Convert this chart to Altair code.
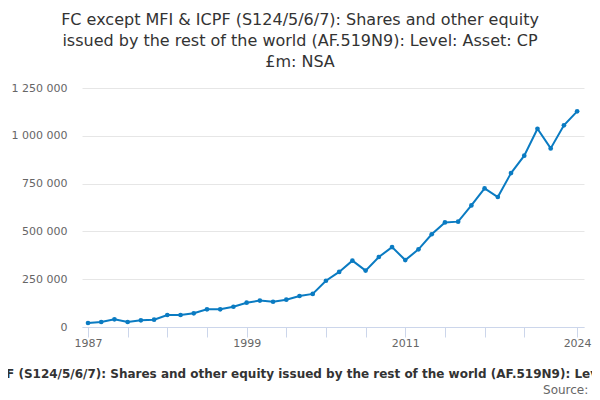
import altair as alt
import pandas as pd

years = list(range(1987, 2025))
values = [
    20900, 26200, 40100, 26200, 34900, 38400, 62800, 62800, 71500, 92400,
    92400, 106000, 127000, 138000, 132000, 143000, 162000, 173000, 242000, 288000,
    347000, 295000, 366000, 418000, 350000, 406000, 485000, 547000, 551000, 636000,
    725000, 680000, 805000, 896000, 1037000, 934000, 1055000, 1128000,
]
x_ticks = [1987, 1990, 1993, 1996, 1999, 2002, 2005, 2008, 2011, 2014, 2017, 2020, 2024]
x_labels = [1987, 1999, 2011, 2024]
y_ticks = [0, 250000, 500000, 750000, 1000000, 1250000]

title_lines = [
    "FC except MFI & ICPF (S124/5/6/7): Shares and other equity",
    "issued by the rest of the world (AF.519N9): Level: Asset: CP",
    "£m: NSA",
]
series_name = ("FC except MFI & ICPF (S124/5/6/7): Shares and other equity issued by "
               "the rest of the world (AF.519N9): Level: Asset: CP £m: NSA")
source_text = "Source:"

df = pd.DataFrame({"year": years, "value": values})

FONT = "DejaVu Sans"
BLUE = "#0a7bc2"

label_cond = " || ".join(f"datum.value == {v}" for v in x_labels)

x_enc = alt.X(
    "year:Q",
    scale=alt.Scale(domain=[1986.546, 2024.52], nice=False, zero=False),
    axis=alt.Axis(
        values=x_ticks,
        labelExpr=f"({label_cond}) ? format(datum.value, 'd') : ''",
        labelOverlap=False,
        grid=False,
        domainColor="#ccd6eb",
        tickColor="#ccd6eb",
        tickSize=10,
        labelPadding=0,
        labelFont=FONT,
        labelFontSize=11,
        labelColor="#666666",
        title=series_name,
        titleFont=FONT,
        titleFontSize=12,
        titleFontWeight="bold",
        titleColor="#333333",
        titleLimit=3000,
        titleX=225,
        titleY=50.7,
        titleAlign="center",
        titleBaseline="alphabetic",
    ),
)
y_enc = alt.Y(
    "value:Q",
    scale=alt.Scale(domain=[0, 1250000], nice=False),
    axis=alt.Axis(
        values=y_ticks,
        labelExpr="join(split(format(datum.value, ','), ','), ' ')",
        domain=False,
        ticks=False,
        tickSize=0,
        labelPadding=15,
        labelFont=FONT,
        labelFontSize=11,
        labelColor="#666666",
        gridColor="#e6e6e6",
        title=None,
    ),
)

line = alt.Chart(df).mark_line(color=BLUE, strokeWidth=2).encode(x=x_enc, y=y_enc)
pts = alt.Chart(df).mark_point(filled=True, color=BLUE, size=22, opacity=1).encode(x="year:Q", y="value:Q")

src = alt.Chart(pd.DataFrame({"t": [source_text]})).mark_text(
    font=FONT, fontSize=12, color="#666666", align="right", baseline="alphabetic"
).encode(text="t:N", x=alt.value(506.3), y=alt.value(305.7))

chart = alt.layer(line, pts, src).properties(
    width=502,
    height=239,
    padding={"left": 74, "top": 80, "right": 8, "bottom": 73},
    autosize=alt.AutoSizeParams(type="none"),
    title=alt.TitleParams(
        text=title_lines,
        font=FONT,
        fontSize=16,
        fontWeight="normal",
        color="#333333",
        anchor="middle",
        frame="group",
        dx=-33,
        offset=12,
        lineHeight=21,
    ),
).configure_view(stroke=None)

chart.save("out.html", embed_options={"renderer": "svg", "actions": False})
